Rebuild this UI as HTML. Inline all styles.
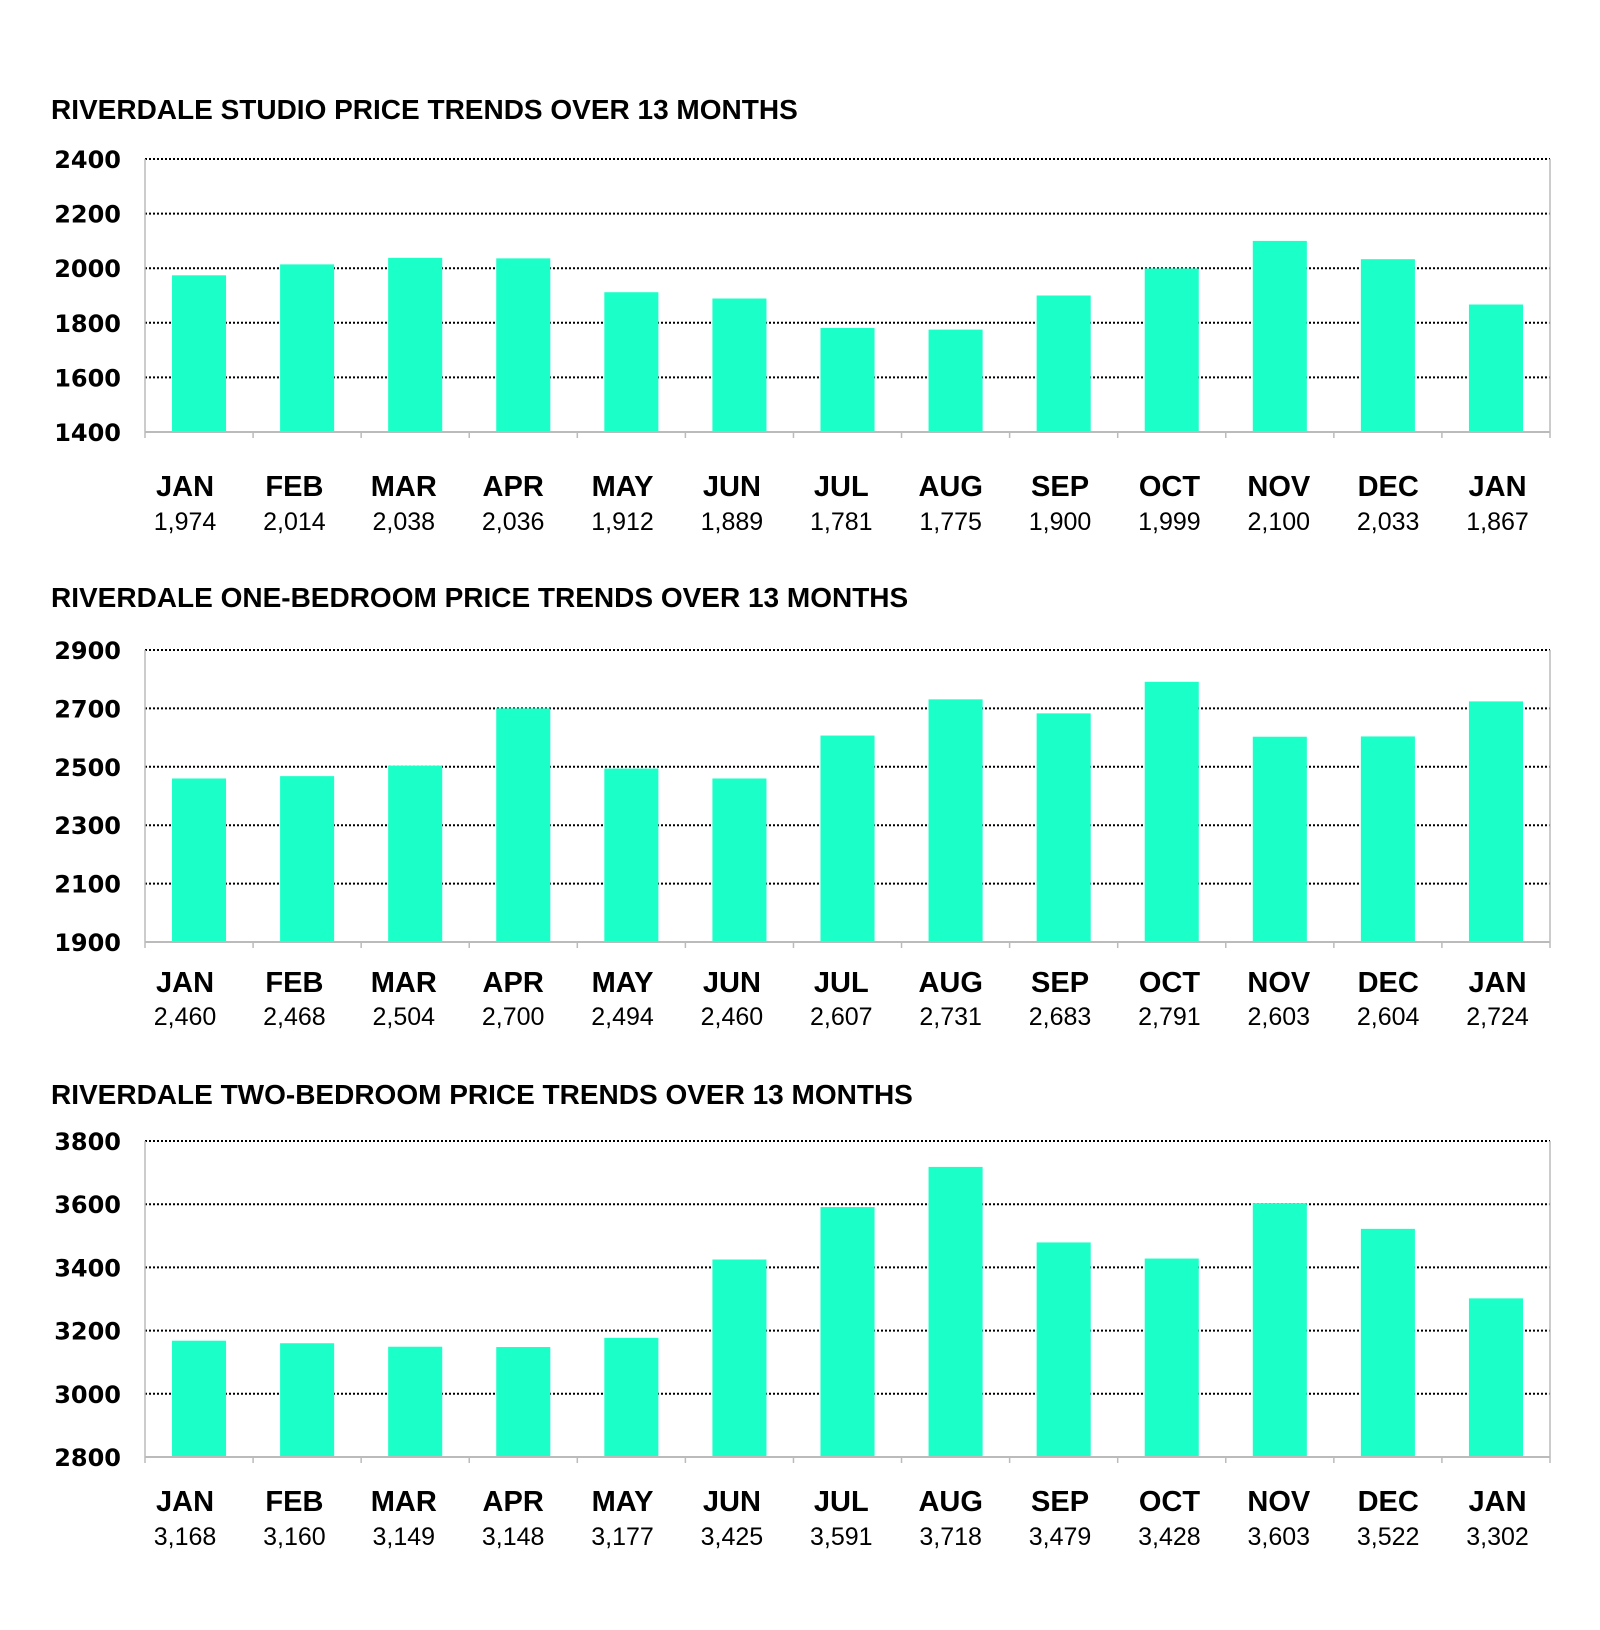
<!DOCTYPE html>
<html><head><meta charset="utf-8"><style>
html,body{margin:0;padding:0;background:#fff;width:1600px;height:1630px;overflow:hidden}
svg{display:block}
.t{font-family:"Liberation Sans",Arial,sans-serif;font-weight:bold;font-size:28px;fill:#000}
.y{font-family:"DejaVu Sans",sans-serif;font-weight:bold;font-size:24px;fill:#000}
.m{font-family:"Liberation Sans",Arial,sans-serif;font-weight:bold;font-size:29px;fill:#000}
.v{font-family:"Liberation Sans",Arial,sans-serif;font-size:25px;fill:#000}
</style></head><body>
<svg id="c" width="1600" height="1630"></svg>
<script>
const months = ["JAN","FEB","MAR","APR","MAY","JUN","JUL","AUG","SEP","OCT","NOV","DEC","JAN"];
const studioValues = [1974,2014,2038,2036,1912,1889,1781,1775,1900,1999,2100,2033,1867];
const oneBedValues = [2460,2468,2504,2700,2494,2460,2607,2731,2683,2791,2603,2604,2724];
const twoBedValues = [3168,3160,3149,3148,3177,3425,3591,3718,3479,3428,3603,3522,3302];
const studioTicks = [1400,1600,1800,2000,2200,2400];
const oneBedTicks = [1900,2100,2300,2500,2700,2900];
const twoBedTicks = [2800,3000,3200,3400,3600,3800];
const titles = ["RIVERDALE STUDIO PRICE TRENDS OVER 13 MONTHS","RIVERDALE ONE-BEDROOM PRICE TRENDS OVER 13 MONTHS","RIVERDALE TWO-BEDROOM PRICE TRENDS OVER 13 MONTHS"];
const NS="http://www.w3.org/2000/svg";
const svg=document.getElementById('c');
function mk(tag,attrs,parent){const e=document.createElementNS(NS,tag);for(const k in attrs)e.setAttribute(k,attrs[k]);(parent||svg).appendChild(e);return e;}
function chart(idx,vals,ticks,layout){
  const g=mk('g',{});
  
  
  const L=145,R=1550,T=layout.top,B=layout.bottom;
  const mn=ticks[0],mx=ticks[ticks.length-1];
  const yS=v=>B-(v-mn)/(mx-mn)*(B-T);
  const band=(R-L)/vals.length;
  const xS=i=>L+i*band;
  const tt=mk('text',{x:51,y:layout.title+10,class:'t'},g);tt.textContent=titles[idx];
  
  
  ticks.forEach(t=>{
    const y=yS(t);
    if(t!==mn){const gl=mk('line',{x1:L,x2:R,y1:y,y2:y,stroke:'#000','stroke-width':2,'stroke-dasharray':'2 2'},g);
      
      }
    const lb=mk('text',{x:121,y:y+9,class:'y','text-anchor':'end'},g);lb.textContent=t;
    
    
  });
  mk('line',{x1:L,x2:L,y1:T,y2:B,stroke:'#bbb','stroke-width':1.5},g);
  mk('line',{x1:R,x2:R,y1:T,y2:B,stroke:'#bbb','stroke-width':1.5},g);
  vals.forEach((v,i)=>{
    const r=mk('rect',{x:xS(i)+band*0.25,y:yS(v),width:band*0.5,height:B-yS(v),fill:'#1bffc9'},g);
    
    
    const cx=xS(i)+band/2-14+i*1.3;
    const m=mk('text',{x:cx,y:layout.lab+10,class:'m','text-anchor':'middle'},g);m.textContent=months[i];
    
    
    const vl=mk('text',{x:cx,y:layout.val+9,class:'v','text-anchor':'middle'},g);vl.textContent=v.toLocaleString('en-US');
    
    
  });
  mk('line',{x1:L,x2:R,y1:B,y2:B,stroke:'#bbb','stroke-width':2},g);
  for(let i=0;i<=vals.length;i++) mk('line',{x1:xS(i),x2:xS(i),y1:B,y2:B+6,stroke:'#bbb','stroke-width':1.5},g);
}
chart(0,studioValues,studioTicks,{top:159,bottom:432,title:109,lab:486,val:521});
chart(1,oneBedValues,oneBedTicks,{top:650,bottom:942,title:597,lab:982,val:1016});
chart(2,twoBedValues,twoBedTicks,{top:1141,bottom:1457,title:1094,lab:1501,val:1536});
</script>
</body></html>
